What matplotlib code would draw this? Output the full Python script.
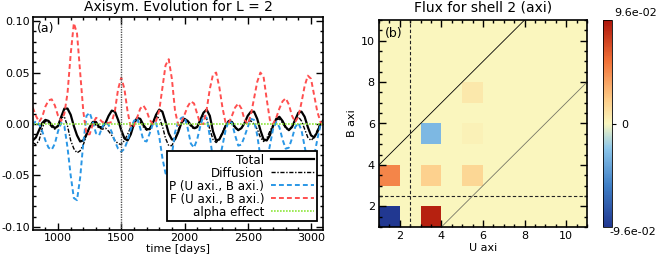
import numpy as np
import matplotlib
matplotlib.use("Agg")
import matplotlib.pyplot as plt
from matplotlib.colors import LinearSegmentedColormap
from matplotlib.ticker import MultipleLocator, FuncFormatter

# --- panel (a): energy transfer terms vs time, sampled every 25 days ---
days = np.arange(800, 3101, 25)

total = [
    -0.016, -0.013, -0.006, 0.001, 0.004, 0.003, -0.001, -0.004,
    -0.002, 0.007, 0.015, 0.015, 0.009, -0.002, -0.011, -0.017,
    -0.016, -0.010, -0.003, 0.002, 0.002, -0.003, -0.003, 0.001,
    0.008, 0.013, 0.012, 0.004, -0.006, -0.014, -0.016, -0.010,
    0.000, 0.006, 0.005, -0.001, -0.005, -0.005, 0.001, 0.009,
    0.014, 0.012, 0.002, -0.009, -0.015, -0.015, -0.008, 0.001,
    0.005, 0.003, -0.001, -0.004, -0.003, 0.004, 0.011, 0.014,
    0.008, -0.007, -0.016, -0.015, -0.009, -0.002, 0.003, 0.002,
    -0.003, -0.006, -0.004, 0.001, 0.008, 0.012, 0.012, 0.005,
    -0.006, -0.015, -0.016, -0.011, -0.002, 0.005, 0.007, 0.003,
    -0.003, -0.006, -0.003, 0.004, 0.011, 0.012, 0.007, -0.003,
    -0.011, -0.013, -0.008, 0.000, 0.004,
]

diffusion = [
    -0.018, -0.020, -0.016, -0.004, 0.003, 0.001, -0.003, -0.005,
    -0.001, 0.006, 0.007, -0.002, -0.016, -0.024, -0.028, -0.026,
    -0.020, -0.011, -0.003, 0.002, -0.001, -0.004, -0.005, -0.004,
    -0.007, -0.011, -0.016, -0.019, -0.020, -0.016, -0.010, -0.003,
    0.002, 0.004, 0.002, -0.003, -0.006, -0.004, 0.002, 0.007,
    0.006, -0.002, -0.014, -0.021, -0.021, -0.015, -0.006, 0.001,
    0.004, 0.002, -0.002, -0.005, -0.003, 0.003, 0.008, 0.005,
    -0.005, -0.015, -0.018, -0.015, -0.008, -0.001, 0.002, 0.000,
    -0.004, -0.006, -0.004, 0.001, 0.003, 0.003, 0.000, -0.005,
    -0.013, -0.017, -0.014, -0.007, -0.001, 0.004, 0.005, 0.001,
    -0.004, -0.006, -0.002, 0.004, 0.007, 0.003, -0.005, -0.013,
    -0.016, -0.013, -0.006, 0.000, 0.002,
]

p_term = [
    -0.001, 0.003, 0.000, -0.007, -0.016, -0.023, -0.025, -0.019,
    -0.007, 0.001, -0.002, -0.023, -0.050, -0.072, -0.074, -0.052,
    -0.018, 0.008, 0.011, 0.002, -0.009, -0.011, -0.003, 0.002,
    -0.001, -0.008, -0.017, -0.024, -0.027, -0.024, -0.016, -0.005,
    0.003, 0.006, -0.004, -0.016, -0.017, -0.009, 0.000, 0.001,
    -0.012, -0.033, -0.048, -0.049, -0.030, -0.008, 0.002, 0.006,
    0.007, -0.004, -0.019, -0.023, -0.015, -0.002, 0.008, 0.006,
    -0.012, -0.034, -0.042, -0.036, -0.021, -0.006, 0.003, 0.001,
    -0.011, -0.021, -0.020, -0.012, -0.003, 0.005, 0.004, -0.011,
    -0.032, -0.042, -0.036, -0.021, -0.005, 0.002, -0.003, -0.015,
    -0.024, -0.023, -0.014, -0.003, 0.001, -0.006, -0.022, -0.037,
    -0.040, -0.031, -0.015, -0.001, 0.003,
]

f_term = [
    0.016, 0.008, 0.002, 0.007, 0.017, 0.023, 0.024, 0.018,
    0.008, 0.003, 0.010, 0.030, 0.068, 0.098, 0.088, 0.050,
    0.012, -0.010, -0.010, 0.000, 0.006, 0.005, 0.002, 0.001,
    0.001, 0.002, 0.013, 0.034, 0.045, 0.034, 0.012, -0.003,
    -0.002, 0.006, 0.015, 0.018, 0.013, 0.004, 0.000, 0.003,
    0.013, 0.035, 0.057, 0.063, 0.044, 0.013, -0.001, 0.002,
    0.009, 0.017, 0.022, 0.020, 0.010, 0.000, 0.000, 0.014,
    0.034, 0.048, 0.050, 0.036, 0.016, 0.001, 0.001, 0.008,
    0.016, 0.020, 0.015, 0.004, 0.000, 0.009, 0.025, 0.041,
    0.050, 0.046, 0.024, 0.004, 0.000, 0.006, 0.015, 0.022,
    0.025, 0.019, 0.008, 0.002, 0.007, 0.021, 0.037, 0.047,
    0.044, 0.028, 0.012, 0.002, -0.002,
]

alpha_days = [800, 3100]
alpha_effect = [0.0, 0.0]

# --- panel (b): flux between shells, cells given by lower-left corner ---
u_cell = [1, 3, 1, 3, 5, 3, 5, 5]
b_cell = [1, 1, 3, 3, 3, 5, 5, 7]
flux = [-0.096, 0.090, 0.050, 0.020, 0.017, -0.030, 0.003, 0.008]
flux_max = 0.096

plt.rcParams['font.family'] = 'DejaVu Sans'
plt.rcParams['font.size'] = 8

fig = plt.figure(figsize=(6.64, 2.63), dpi=100)
W, H = 664.0, 263.0


def fmt_y(v, pos):
    s = f"{v:.2f}"
    return '0.00' if s == '-0.00' else s


# ---------------- left panel ----------------
ax1 = fig.add_axes([33 / W, 33 / H, 290 / W, 213 / H])
ax1.plot(days, total, color='black', lw=1.6, label='Total')
ax1.plot(days, diffusion, color='black', lw=1.0,
         ls=(0, (3, 1.2, 1, 1.2)), label='Diffusion')
ax1.plot(days, p_term, color='#2a97e6', lw=1.4, ls=(0, (2.5, 1.6)),
         label='P (U axi., B axi.)')
ax1.plot(days, f_term, color='#ff4f4f', lw=1.4, ls=(0, (2.5, 1.6)),
         label='F (U axi., B axi.)')
ax1.plot(alpha_days, alpha_effect, color='#8ee63c', lw=1.2, ls=(0, (1, 0.8)),
         label='alpha effect')
ax1.axvline(1500, color='#555555', lw=1.0, ls=(0, (1, 0.8)))

ax1.set_xlim(802, 3095)
ax1.set_ylim(-0.103, 0.104)
ax1.xaxis.set_major_locator(MultipleLocator(500))
ax1.xaxis.set_minor_locator(MultipleLocator(100))
ax1.yaxis.set_major_locator(MultipleLocator(0.05))
ax1.yaxis.set_minor_locator(MultipleLocator(0.01))
ax1.yaxis.set_major_formatter(FuncFormatter(fmt_y))
ax1.set_xlabel('time [days]', labelpad=1)
ax1.text(0.015, 0.975, '(a)', transform=ax1.transAxes, va='top', ha='left', fontsize=9)

leg = ax1.legend(loc='lower right', bbox_to_anchor=(0.978, 0.042), markerfirst=False,
                 fancybox=False, framealpha=1, edgecolor='black', fontsize=8.6,
                 handlelength=3.6, handletextpad=0.6, labelspacing=0.0,
                 borderpad=0.2, borderaxespad=0)
leg.get_frame().set_linewidth(1.3)
leg._legend_box.align = 'right'

fig.text(178 / W, 1 - 7.5 / H, 'Axisym. Evolution for L = 2', ha='center', va='center',
         fontsize=10)

# ---------------- right panel ----------------
colors = [(0.0, '#213891'), (0.2, '#3f7fc6'), (0.38, '#8cc6ea'),
          (0.5, '#faf7bf'), (0.62, '#fdcb86'), (0.8, '#f27238'), (1.0, '#ad140a')]
cmap = LinearSegmentedColormap.from_list('flux', colors)

grid = np.zeros((10, 10))
for u, b, f in zip(u_cell, b_cell, flux):
    grid[b - 1, u - 1] = f
edges = np.arange(1, 12)

ax2 = fig.add_axes([379 / W, 36 / H, 208 / W, 207 / H])
mesh = ax2.pcolormesh(edges, edges, grid, cmap=cmap, vmin=-flux_max, vmax=flux_max)
ax2.plot([2.5, 2.5], [1, 11], color='#222222', lw=0.8, ls=(0, (3, 2)))
ax2.plot([1, 11], [2.5, 2.5], color='#222222', lw=0.8, ls=(0, (3, 2)))
ax2.plot([1, 8], [4, 11], color='black', lw=0.6)
ax2.plot([4, 11], [1, 8], color='#777766', lw=0.6)
ax2.set_xlim(1, 11)
ax2.set_ylim(1, 11)
ax2.xaxis.set_major_locator(MultipleLocator(2))
ax2.xaxis.set_minor_locator(MultipleLocator(0.5))
ax2.yaxis.set_major_locator(MultipleLocator(2))
ax2.yaxis.set_minor_locator(MultipleLocator(0.5))
ax2.set_xlabel('U axi', labelpad=1)
ax2.set_ylabel('B axi', labelpad=3)
ax2.text(0.03, 0.965, '(b)', transform=ax2.transAxes, va='top', ha='left', fontsize=9)
fig.text(483 / W, 1 - 7.5 / H, 'Flux for shell 2 (axi)', ha='center', va='center',
         fontsize=10)

for ax in (ax1, ax2):
    ax.tick_params(which='both', direction='in', top=True, right=True, width=1.0)
    ax.tick_params(which='major', length=5, labelsize=8, pad=2)
    ax.tick_params(which='minor', length=2.5)
    for sp in ax.spines.values():
        sp.set_linewidth(1.2)
ax2.tick_params(which='major', pad=3)

# colorbar
cax = fig.add_axes([603 / W, 36 / H, 9 / W, 207 / H])
cb = fig.colorbar(mesh, cax=cax, ticks=[0])
cb.ax.set_yticklabels(['0'])
cb.ax.tick_params(length=3, width=0.8, labelsize=8, pad=4)
cb.outline.set_linewidth(0.6)
fig.text(636 / W, 1 - 13 / H, '9.6e-02', ha='center', va='center', fontsize=8)
fig.text(633 / W, 1 - 232 / H, '-9.6e-02', ha='center', va='center', fontsize=8)

fig.savefig('out.png', dpi=100)
